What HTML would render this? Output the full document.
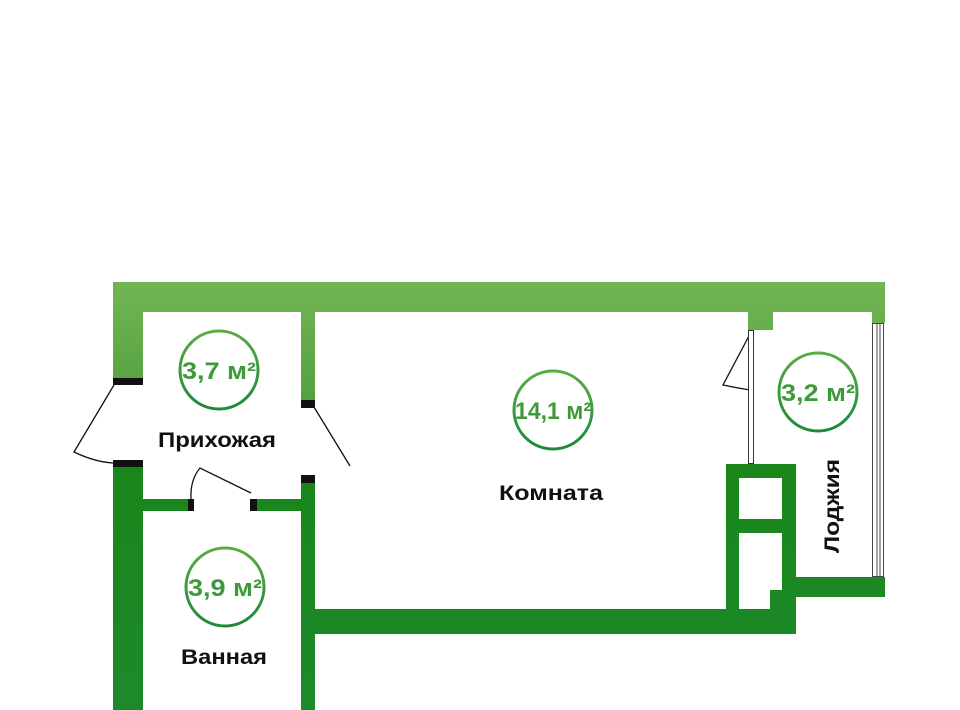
<!DOCTYPE html>
<html><head><meta charset="utf-8"><style>
html,body{margin:0;padding:0;background:#fff;width:960px;height:710px;overflow:hidden}
svg{display:block}
text{font-family:"Liberation Sans",sans-serif;font-weight:bold}
</style></head><body>
<svg width="960" height="710" viewBox="0 0 960 710" xmlns="http://www.w3.org/2000/svg">
<defs>
<linearGradient id="w" gradientUnits="userSpaceOnUse" x1="0" y1="282" x2="0" y2="710">
<stop offset="0" stop-color="#72b653"/>
<stop offset="0.28" stop-color="#54a040"/>
<stop offset="0.43" stop-color="#1a861a"/>
<stop offset="1" stop-color="#1c8a2c"/>
</linearGradient>
<linearGradient id="c" x1="0" y1="0" x2="0" y2="1">
<stop offset="0" stop-color="#5aab45"/>
<stop offset="1" stop-color="#1d8a3a"/>
</linearGradient>
</defs>
<g fill="url(#w)">
<rect x="113" y="282" width="772" height="30"/>
<rect x="748" y="312" width="25" height="18"/>
<rect x="872" y="312" width="13" height="11"/>
<rect x="113" y="312" width="30" height="66"/>
<rect x="113" y="467" width="30" height="243"/>
<rect x="301" y="312" width="14" height="88"/>
<rect x="301" y="483" width="14" height="227"/>
<rect x="143" y="499" width="47" height="12"/>
<rect x="256" y="499" width="45" height="12"/>
<rect x="315" y="609" width="481" height="25"/>
<path d="M726 464 H796 V634 H726 Z M739 478 V519 H782 V478 Z M739 533 V610 H770 V590 H782 V533 Z" fill-rule="evenodd"/>
<rect x="796" y="577" width="89" height="20"/>
</g>
<g fill="#111">
<rect x="113" y="378" width="30" height="7"/>
<rect x="113" y="460" width="30" height="7"/>
<rect x="301" y="400" width="14" height="8"/>
<rect x="301" y="475" width="14" height="8"/>
<rect x="188" y="499" width="6" height="12"/>
<rect x="250" y="499" width="7" height="12"/>
</g>
<g fill="none" stroke="#111" stroke-width="1.3">
<path d="M114 385 L74 452 Q95 462 113 463"/>
<path d="M314 407 L350 466"/>
<path d="M191 499 Q190 480 200 468 L251 493"/>
<path d="M750 334 L723 385 Q737 388 750 390"/>
</g>
<rect x="748.5" y="330.5" width="5" height="133" fill="#fff" stroke="#333" stroke-width="1"/>
<g fill="none" stroke="#444" stroke-width="1">
<rect x="872.5" y="323.5" width="11" height="253"/>
<line x1="877" y1="324" x2="877" y2="576"/>
<line x1="880" y1="324" x2="880" y2="576"/>
</g>
<g fill="#fff" stroke="url(#c)" stroke-width="3">
<circle cx="219" cy="370" r="39"/>
<circle cx="553" cy="410" r="39"/>
<circle cx="818" cy="392" r="39"/>
<circle cx="225" cy="587" r="39"/>
</g>
<g fill="#3c9a3a" font-size="24" text-anchor="middle">
<text x="219" y="379" textLength="74" lengthAdjust="spacingAndGlyphs">3,7 м²</text>
<text x="553" y="419" textLength="76" lengthAdjust="spacingAndGlyphs">14,1 м²</text>
<text x="818" y="401" textLength="74" lengthAdjust="spacingAndGlyphs">3,2 м²</text>
<text x="225" y="596" textLength="74" lengthAdjust="spacingAndGlyphs">3,9 м²</text>
</g>
<g fill="#111" font-size="21" text-anchor="middle">
<text x="217" y="447" textLength="118" lengthAdjust="spacingAndGlyphs">Прихожая</text>
<text x="551" y="500" textLength="104" lengthAdjust="spacingAndGlyphs">Комната</text>
<text x="224" y="664" textLength="86" lengthAdjust="spacingAndGlyphs">Ванная</text>
<text transform="translate(839,506) rotate(-90)" textLength="94" lengthAdjust="spacingAndGlyphs">Лоджия</text>
</g>
</svg>
</body></html>
